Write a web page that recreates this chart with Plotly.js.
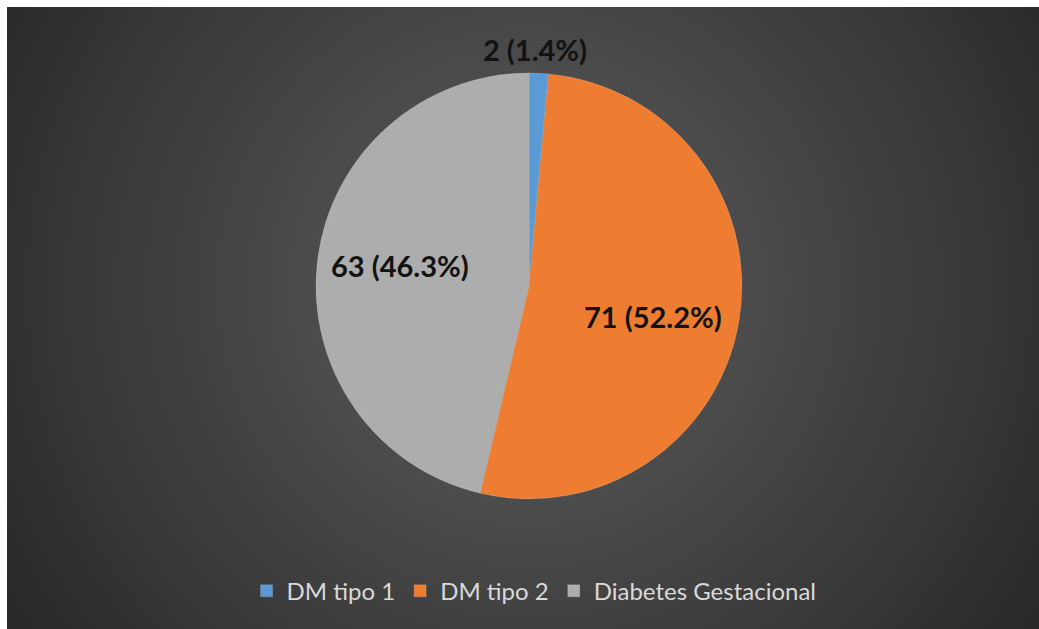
<!DOCTYPE html>
<html>
<head>
<meta charset="utf-8">
<script src="https://cdn.plot.ly/plotly-3.0.1.min.js"></script>
<style>
  html, body { margin: 0; padding: 0; background: #ffffff; }
  #wrap { position: relative; width: 1039px; height: 629px; overflow: hidden; }
  #bg { position: absolute; left: 7px; top: 7px; width: 1032px; height: 622px;
        background: radial-gradient(circle at 50.5% 45%, #5e5e5e 0px, #4b4b4b 220px, #393939 430px, #282828 620px); }
  #chart { position: absolute; left: 0; top: 0; width: 1039px; height: 629px; }
</style>
</head>
<body>
<div id="wrap">
  <div id="bg"></div>
  <div id="chart"></div>
</div>
<script>
const categories = ['DM tipo 1', 'DM tipo 2', 'Diabetes Gestacional'];
const counts = [2, 71, 63];
const percentLabels = ['1.4%', '52.2%', '46.3%'];
const sliceColors = ['#5b9bd5', '#ee7d31', '#adadad'];

// label placement (style): pixel centres of each data label in the 1039x629 figure
const W = 1039, H = 629;
const labelPx = [[535, 50], [653, 317], [400, 265]];
const labelFont = { family: 'Lato, "Open Sans", sans-serif', size: 29, color: '#121212', weight: 'bold' };

const trace = {
  type: 'pie',
  labels: categories,
  values: counts,
  sort: false,
  direction: 'clockwise',
  rotation: 0,
  textinfo: 'none',
  marker: { colors: sliceColors, line: { color: 'rgba(255,255,255,0.25)', width: 0.6 } },
  domain: { x: [0.3041, 0.7141], y: [0.2067, 0.8839] },
  hoverinfo: 'label+value+percent',
  automargin: false
};

const annotations = categories.map((c, i) => ({
  xref: 'paper', yref: 'paper',
  x: labelPx[i][0] / W, y: 1 - labelPx[i][1] / H,
  xanchor: 'center', yanchor: 'middle',
  text: '<b>' + counts[i] + ' (' + percentLabels[i] + ')</b>',
  showarrow: false,
  font: labelFont
}));

const layout = {
  width: W,
  height: H,
  margin: { l: 0, r: 0, t: 0, b: 0 },
  paper_bgcolor: 'rgba(0,0,0,0)',
  plot_bgcolor: 'rgba(0,0,0,0)',
  showlegend: true,
  annotations: annotations,
  legend: {
    orientation: 'h',
    x: 0.514, xanchor: 'center',
    y: 0.06, yanchor: 'middle',
    font: { family: 'Lato, "Open Sans", sans-serif', size: 24, color: '#d9d9d9' },
    traceorder: 'normal',
    itemclick: false,
    itemdoubleclick: false
  }
};

Plotly.newPlot('chart', [trace], layout, { displayModeBar: false, staticPlot: true });
</script>
</body>
</html>
